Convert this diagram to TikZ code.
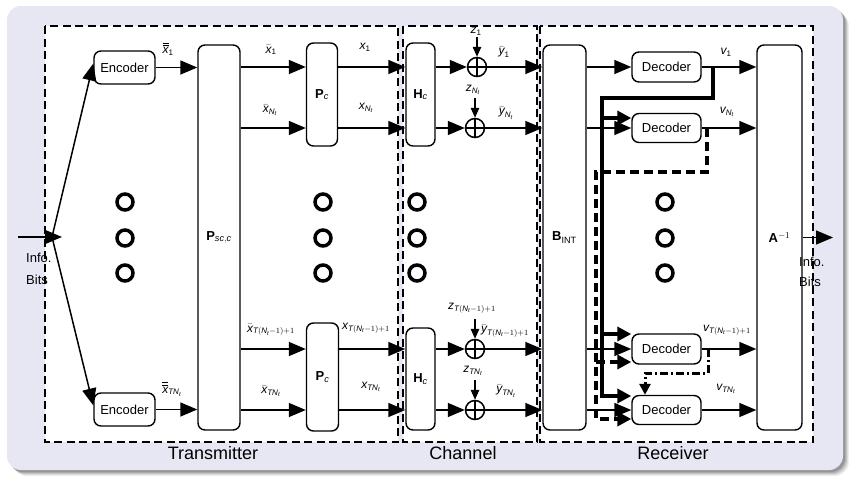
\documentclass[tikz,border=0pt]{standalone}
\usepackage{amsmath}
\usepackage{fontspec}
\setmainfont{Liberation Sans}
\usetikzlibrary{arrows.meta,calc}
\definecolor{lav}{RGB}{231,231,243}
\newcommand\iv[1]{\text{\itshape #1}}
\newcommand\dbar[1]{\overline{\overline{#1}}}
\begin{document}
\begin{tikzpicture}[x=1pt,y=-1pt,
 blk/.style={draw, line width=1.4pt, rounded corners=7pt, fill=white, inner sep=0pt, font=\fontsize{13}{15}\selectfont},
 arr/.style={line width=1.5pt, -{Triangle[length=17pt,width=14pt]}},
 sarr/.style={line width=1.4pt, -{Triangle[length=10pt,width=8.5pt]}},
 lbl/.style={inner sep=0pt, font=\fontsize{12}{14}\selectfont},
 big/.style={inner sep=0pt, font=\fontsize{18}{20}\selectfont},
 dbox/.style={draw, fill=white, line width=1.5pt, dash pattern=on 8pt off 4.5pt},
 dotc/.style={circle, draw, line width=3.5pt, minimum size=16pt, inner sep=0pt},
 adder/.style={circle, draw, fill=white, line width=1.5pt, minimum size=19pt, inner sep=0pt,
   path picture={\draw[line width=1.4pt] (path picture bounding box.north) -- (path picture bounding box.south)
     (path picture bounding box.west) -- (path picture bounding box.east);}},
 thk/.style={line width=4.5pt},
 thkd/.style={line width=4pt, dash pattern=on 9pt off 5pt},
 ddot/.style={line width=3pt, dash pattern=on 8pt off 3pt on 2pt off 3pt},
 thkarr/.style={-{Triangle[length=14pt,width=14pt]}},
]
\useasboundingbox (0,0) rectangle (849,479);
% background with shadow
\foreach \o/\op in {6/0.06,5/0.08,4/0.1,3/0.12,2/0.14}{
  \fill[black, opacity=\op, rounded corners=14pt] (7+\o,6+\o) rectangle (843+\o,470+\o);}
\fill[lav, rounded corners=14pt] (7,6) rectangle (843,470);
% dashed areas
\draw[dbox] (45,26) rectangle (398,442);
\draw[dbox] (403,26) rectangle (537,442);
\draw[dbox] (540,26) rectangle (813,442);
\node[big] (ttx) at (213,453.5) {Transmitter};
\node[big] (tch) at (463,453.5) {Channel};
\node[big] (trx) at (673,453.5) {Receiver};
% dots
\foreach \x in {125,323,417,665}{
  \foreach \y in {202,238,273}{
    \node[dotc] (d\x-\y) at (\x,\y) {};}}
% rows
\coordinate (r1) at (0,67);
\coordinate (r2) at (0,128);
\coordinate (r3) at (0,349);
\coordinate (r4) at (0,410);
% blocks
\node[blk, minimum width=61pt, minimum height=33pt] (enc1) at (124.5,67.5) {Encoder};
\node[blk, minimum width=61pt, minimum height=33pt] (enc2) at (124.5,409.5) {Encoder};
\node[blk, minimum width=42pt, minimum height=385pt] (pscc) at (219,237.5) {\textbf{P}$_{\iv{sc},\iv{c}}$};
\node[blk, minimum width=31pt, minimum height=103pt] (pc1) at (322,94.5) {\textbf{P}$_{\iv{c}}$};
\node[blk, minimum width=32pt, minimum height=108pt] (pc2) at (322.5,377) {\textbf{P}$_{\iv{c}}$};
\node[blk, minimum width=29pt, minimum height=103pt] (hc1) at (420.5,94.5) {\textbf{H}$_{\iv{c}}$};
\node[blk, minimum width=29pt, minimum height=102pt] (hc2) at (420.5,379) {\textbf{H}$_{\iv{c}}$};
\node[blk, minimum width=43pt, minimum height=385pt] (bint) at (564.5,237.5) {\textbf{B}$_{\mathrm{INT}}$};
\node[blk, minimum width=45pt, minimum height=385pt] (ainv) at (779.5,237.5) {\textbf{A}$^{-1}$};
\node[blk, minimum width=69pt, minimum height=30pt] (dec1) at (666.5,67) {Decoder};
\node[blk, minimum width=69pt, minimum height=29pt] (dec2) at (666.5,128) {Decoder};
\node[blk, minimum width=69pt, minimum height=30pt] (dec3) at (666.5,349) {Decoder};
\node[blk, minimum width=69pt, minimum height=29pt] (dec4) at (666.5,410) {Decoder};
\node[adder] (add1) at (477,67) {};
\node[adder] (add2) at (475,128) {};
\node[adder] (add3) at (475,349) {};
\node[adder] (add4) at (475,410) {};
% input
\coordinate (inS) at (18,237);
\coordinate (inT) at (62,237);
\coordinate (split) at (52,237);
\draw[arr] (inS) -- (inT);
\draw[arr] (split) -- ([yshift=4pt]enc1.west);
\draw[arr] (split) -- ([yshift=4pt]enc2.west);
\draw[arr] (enc1.east) -- (enc1.east -| pscc.west);
\draw[arr] (enc2.east) -- (enc2.east -| pscc.west);
% row connectors
\foreach \r/\p/\h/\a/\d in {r1/pc1/hc1/add1/dec1, r2/pc1/hc1/add2/dec2, r3/pc2/hc2/add3/dec3, r4/pc2/hc2/add4/dec4}{
  \draw[arr] (pscc.east |- \r) -- (\p.west |- \r);
  \draw[arr] (\p.east |- \r) -- (\h.west |- \r);
  \draw[arr] (\h.east |- \r) -- (\a.west);
  \draw[arr] (\a.east) -- (bint.west |- \r);
  \draw[arr] (bint.east |- \r) -- (\d.west);
  \draw[arr] (\d.east) -- (ainv.west |- \d.east);
  \draw[sarr] ([yshift=20pt]\a.north) -- (\a.north);
}
% output
\coordinate (outT) at (833,237.5);
\draw[arr] (ainv.east) -- (outT);
% decoder feedback lines
\coordinate (s0) at (713,67);
\coordinate (s1) at (713,98);
\coordinate (s2) at (602,98);
\coordinate (s3) at (602,396);
\coordinate (sb2) at (602,118);
\coordinate (sb3) at (602,334);
\draw[thk, thkarr] (s0) -- (s1) -- (s2) -- (s3) -- (s3 -| dec4.west);
\draw[thk, thkarr] (sb2) -- (sb2 -| dec2.west);
\draw[thk, thkarr] (sb3) -- (sb3 -| dec3.west);
\coordinate (q0) at (707,128);
\coordinate (q1) at (707,172);
\coordinate (q2) at (596,172);
\coordinate (q3) at (596,419);
\coordinate (qb3) at (596,362);
\draw[thkd, thkarr] (q0) -- (q1) -- (q2) -- (q3) -- (q3 -| dec4.west);
\draw[thkd, thkarr] (qb3) -- (qb3 -| dec3.west);
\coordinate (c0) at (708,349);
\coordinate (c1) at (708,373);
\coordinate (c2) at (645,373);
\draw[ddot, -{Triangle[length=11pt,width=11pt]}] (c0) -- (c1) -- (c2) -- (c2 |- dec4.north);
% info bits
\node[anchor=west, align=left, inner sep=0pt, font=\fontsize{13}{22}\selectfont] (inl) at (26,269) {Info.\\Bits};
\node[anchor=west, align=left, inner sep=0pt, font=\fontsize{13}{20}\selectfont] (outl) at (799,272) {Info.\\Bits};
% labels
\node[lbl] (lx1) at (168,49) {$\dbar{\iv{x}}_{\text{1}}$};
\node[lbl] (lx2) at (172,389) {$\dbar{\iv{x}}_{\iv{TN}_{\iv{t}}}$};
\node[lbl] (lxb1) at (271,50) {$\bar{\iv{x}}_{\text{1}}$};
\node[lbl] (lxb2) at (270,110) {$\bar{\iv{x}}_{\iv{N}_{\iv{t}}}$};
\node[lbl] (lxb3) at (271,330) {$\bar{\iv{x}}_{\iv{T}(\iv{N}_{\iv{t}}-1)+1}$};
\node[lbl] (lxb4) at (271,391) {$\bar{\iv{x}}_{\iv{TN}_{\iv{t}}}$};
\node[lbl] (lxa1) at (365,47) {$\iv{x}_{\text{1}}$};
\node[lbl] (lxa2) at (366,108) {$\iv{x}_{\iv{N}_{\iv{t}}}$};
\node[lbl] (lxa3) at (366,328) {$\iv{x}_{\iv{T}(\iv{N}_{\iv{t}}-1)+1}$};
\node[lbl] (lxa4) at (371,387) {$\iv{x}_{\iv{TN}_{\iv{t}}}$};
\node[lbl] (lz1) at (476,31) {$\iv{z}_{\text{1}}$};
\node[lbl] (lz2) at (473,90) {$\iv{z}_{\iv{N}_{\iv{t}}}$};
\node[lbl] (lz3) at (472,308) {$\iv{z}_{\iv{T}(\iv{N}_{\iv{t}}-1)+1}$};
\node[lbl] (lz4) at (473,371) {$\iv{z}_{\iv{TN}_{\iv{t}}}$};
\node[lbl] (ly1) at (504,52) {$\bar{\iv{y}}_{\text{1}}$};
\node[lbl] (ly2) at (506,113) {$\bar{\iv{y}}_{\iv{N}_{\iv{t}}}$};
\node[lbl] (ly3) at (505,331) {$\bar{\iv{y}}_{\iv{T}(\iv{N}_{\iv{t}}-1)+1}$};
\node[lbl] (ly4) at (506,391) {$\bar{\iv{y}}_{\iv{TN}_{\iv{t}}}$};
\node[lbl] (lv1) at (726,52) {$\iv{v}_{\text{1}}$};
\node[lbl] (lv2) at (727,112) {$\iv{v}_{\iv{N}_{\iv{t}}}$};
\node[lbl] (lv3) at (727,330) {$\iv{v}_{\iv{T}(\iv{N}_{\iv{t}}-1)+1}$};
\node[lbl] (lv4) at (726,389) {$\iv{v}_{\iv{TN}_{\iv{t}}}$};
\end{tikzpicture}
\end{document}
